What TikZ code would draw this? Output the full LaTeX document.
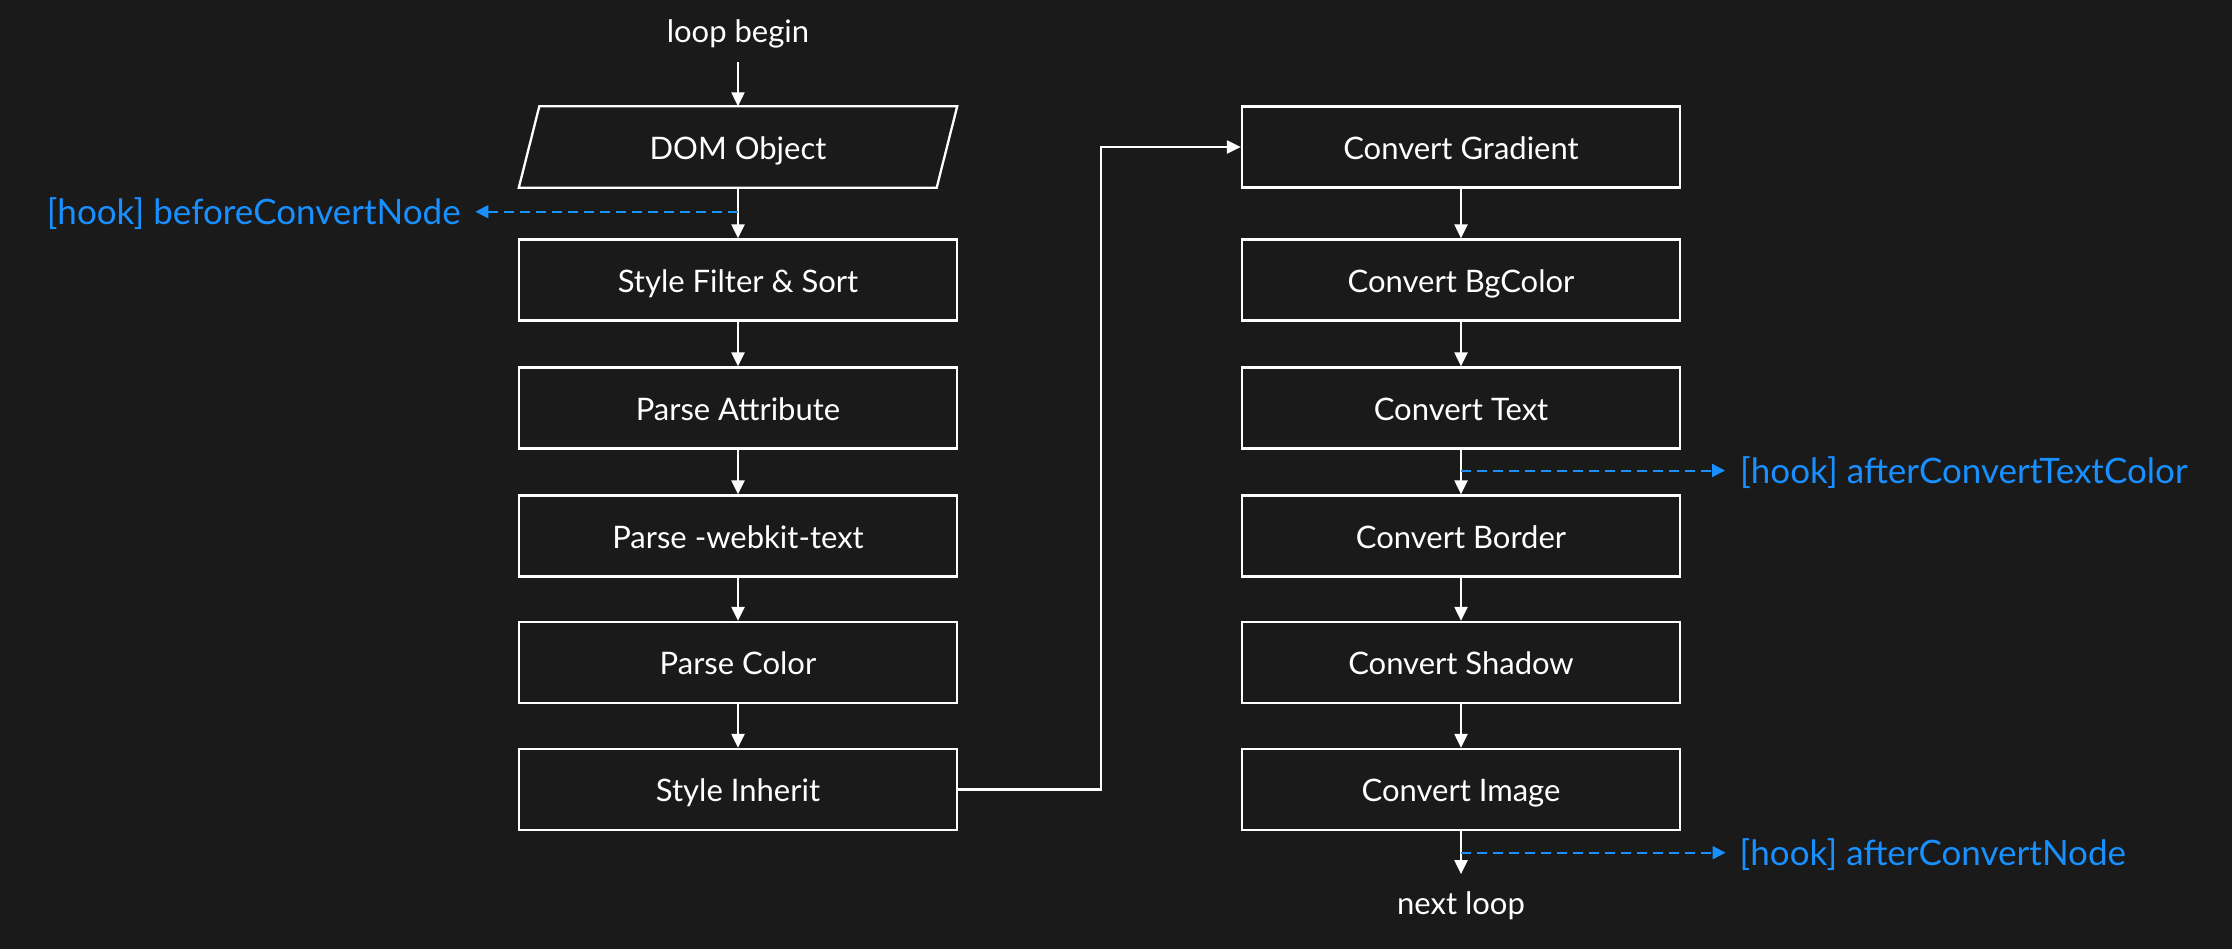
\documentclass[tikz,border=0pt]{standalone}
\usepackage{fontspec}
\setmainfont{Lato}
\usetikzlibrary{arrows.meta}
\definecolor{bg}{HTML}{1A1A1A}
\definecolor{hookblue}{HTML}{1890FF}
\begin{document}
\begin{tikzpicture}[x=1pt,y=-1pt,
  every node/.style={font=\fontsize{31}{37}\selectfont, text=white},
  procbox/.style={draw=white, line width=2.3pt, fill=bg, minimum width=438pt, minimum height=81pt, inner sep=0pt, text height=24pt, text depth=0pt},
  plainbox/.style={minimum width=438pt, minimum height=81pt, inner sep=0pt, text height=24pt, text depth=0pt},
  conn/.style={draw=white, line width=2.2pt, -{Triangle[length=14pt,width=13pt]}},
  hookline/.style={draw=hookblue, line width=2pt, dash pattern=on 10pt off 6pt, -{Triangle[length=13pt,width=13pt]}},
  hooktext/.style={text=hookblue, inner ysep=0pt, font=\fontsize{35}{42}\selectfont}
]
\useasboundingbox (0,0) rectangle (2232,948);
\fill[bg] (-10,-10) rectangle (2242,958);

% left column
\node[anchor=base, inner xsep=0pt, inner ysep=19pt, text depth=0pt] (lb) at (738,42.7) {loop begin};
\node[plainbox] (dom) at (738,147) {DOM Object};
\draw[white, line width=2.3pt, fill=bg, line join=miter]
  ([xshift=20.5pt]dom.north west) -- (dom.north east) -- ([xshift=-20.5pt]dom.south east) -- (dom.south west) -- cycle;
\node at (dom.center) [plainbox] {DOM Object};
\node[procbox] (sf) at (738,280) {Style Filter \& Sort};
\node[procbox] (pa) at (738,408) {Parse Attribute};
\node[procbox] (pw) at (738,536) {Parse -webkit-text};
\node[procbox] (pc) at (738,662.5) {Parse Color};
\node[procbox] (si) at (738,789.5) {Style Inherit};

% right column
\node[procbox] (cg) at (1461,147) {Convert Gradient};
\node[procbox] (cb) at (1461,280) {Convert BgColor};
\node[procbox] (ct) at (1461,408) {Convert Text};
\node[procbox] (cbo) at (1461,536) {Convert Border};
\node[procbox] (cs) at (1461,662.5) {Convert Shadow};
\node[procbox] (ci) at (1461,789.5) {Convert Image};
\node[anchor=base, inner xsep=0pt, inner ysep=17pt, text height=23pt, text depth=0pt] (nl) at (1461,914.3) {next loop};

% main flow
\draw[conn] (lb.south) -- (dom.north);
\draw[conn] (dom.south) -- (sf.north);
\draw[conn] (sf.south) -- (pa.north);
\draw[conn] (pa.south) -- (pw.north);
\draw[conn] (pw.south) -- (pc.north);
\draw[conn] (pc.south) -- (si.north);
\draw[conn] (si.east) -- ++(143,0) |- (cg.west);
\draw[conn] (cg.south) -- (cb.north);
\draw[conn] (cb.south) -- (ct.north);
\draw[conn] (ct.south) -- (cbo.north);
\draw[conn] (cbo.south) -- (cs.north);
\draw[conn] (cs.south) -- (ci.north);
\draw[conn] (ci.south) -- (nl.north);

% hooks
\coordinate (h1) at (738,211.7);
\coordinate (h2) at (1461,470.5);
\coordinate (h3) at (1461,852.7);
\node[hooktext, anchor=east, inner xsep=14.5pt] (t1) at (475.4,213.7) {[hook] beforeConvertNode};
\node[hooktext, anchor=west, inner xsep=15pt] (t2) at (1725,472.5) {[hook] afterConvertTextColor};
\node[hooktext, anchor=west, inner xsep=14pt] (t3) at (1725.5,854.7) {[hook] afterConvertNode};
\draw[hookline] (h1) -- (h1 -| t1.east);
\draw[hookline] (h2) -- (h2 -| t2.west);
\draw[hookline] (h3) -- (h3 -| t3.west);
\end{tikzpicture}
\end{document}
